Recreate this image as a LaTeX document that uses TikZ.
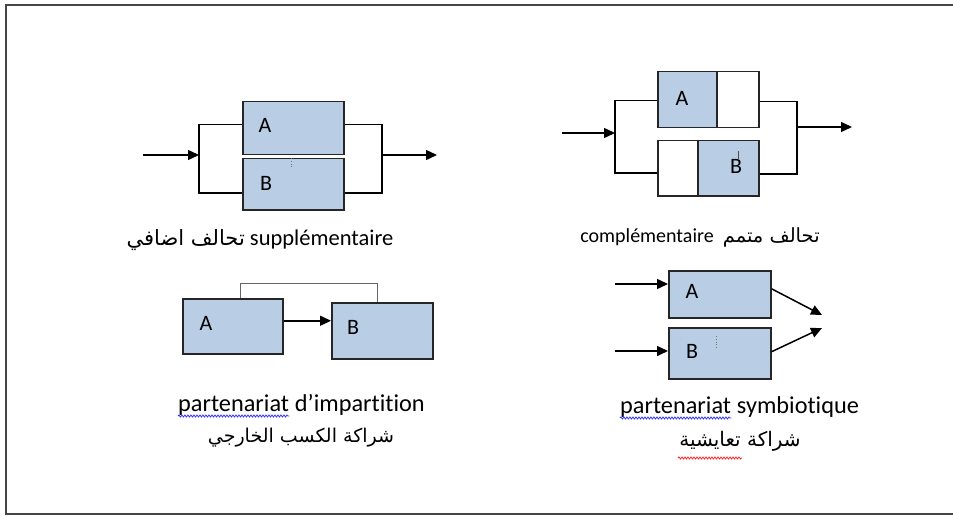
\documentclass[tikz,border=0pt]{standalone}
\usepackage{fontspec}
\setmainfont{Carlito}[Ligatures=NoCommon]
\newfontfamily\arabicfont[Script=Arabic]{DejaVu Sans}
\TeXXeTstate=1
\usetikzlibrary{arrows.meta,decorations.pathmorphing}
\definecolor{boxblue}{RGB}{185,205,229}
\definecolor{framegray}{RGB}{70,70,70}
\tikzset{
  box/.style={draw=black!85, line width=1.5pt, fill=boxblue, anchor=north west, inner sep=0pt},
  wbox/.style={draw=black!85, line width=1.5pt, fill=white, anchor=north west, inner sep=0pt},
  conn/.style={draw=black, line width=1.5pt},
  arr/.style={conn, -{Triangle[length=11pt,width=10pt]}},
  thinconn/.style={draw=black!60, line width=1pt},
  lab/.style={font=\fontsize{22}{24}\selectfont, inner sep=0pt},
  txt/.style={font=\fontsize{22.5}{24}\selectfont, inner sep=0pt},
  btxt/.style={font=\fontsize{24.3}{26}\selectfont, inner sep=0pt},
  stxt/.style={font=\fontsize{20}{22}\selectfont, inner sep=0pt},
  atxt/.style={font=\arabicfont\fontsize{19}{22}\selectfont, inner sep=0pt},
  wavyblue/.style={draw=blue!80, line width=0.8pt, decorate, decoration={snake, amplitude=1pt, segment length=3pt}},
  wavyred/.style={draw=red!85, line width=0.8pt, decorate, decoration={snake, amplitude=1pt, segment length=3pt}},
  cursor/.style={draw=black!55, line width=0.8pt, dotted}
}
\begin{document}
\begin{tikzpicture}[x=1pt,y=-1pt]
\useasboundingbox (0,0) rectangle (953,516);
% frame
\draw[framegray, line width=2pt] (953,5) -- (6,5) -- (6,514) -- (953,514);

% ---------- diagram 1 : supplementaire ----------
\node[box, minimum width=101pt, minimum height=53pt] (A1) at (242,101) {};
\node[box, minimum width=101pt, minimum height=51pt] (B1) at (242,158) {};
\node[lab] (A1t) at (265,125) {A};
\node[lab] (B1t) at (266,183) {B};
\draw[cursor] (291,158) -- (291,167);
\coordinate (s1) at (143,155);
\coordinate (J1) at (199,155);
\coordinate (K1) at (382,155);
\coordinate (e1) at (437,155);
\draw[arr] (s1) -- (J1);
\draw[conn] ([yshift=3.5pt]A1.west) -| (J1) |- ([yshift=-8.5pt]B1.west);
\draw[conn] ([yshift=3.5pt]A1.east) -| (K1) |- ([yshift=-8.5pt]B1.east);
\draw[arr] (K1) -- (e1);
\node[txt] (T1) at (260,240) {{\arabicfont\fontsize{21}{24}\selectfont\beginR تحالف اضافي\endR} supplémentaire};

% ---------- diagram 2 : complementaire ----------
\node[box, minimum width=59pt, minimum height=56pt] (A2) at (657,71) {};
\node[wbox, minimum width=42pt, minimum height=56pt] (A2w) at (716,71) {};
\node[wbox, minimum width=40pt, minimum height=55pt] (B2w) at (657,140) {};
\node[box, minimum width=61pt, minimum height=55pt] (B2) at (697,140) {};
\node[lab] (A2t) at (682,98) {A};
\node[lab] (B2t) at (736,166) {B};
\draw[draw=black!70, line width=0.8pt] (738,151) -- (738,160);
\coordinate (s2) at (562,133);
\coordinate (J2) at (615,133);
\coordinate (K2) at (797,127);
\coordinate (e2) at (852,127);
\draw[arr] (s2) -- (J2);
\draw[conn] ([yshift=-1pt]A2.west) -| (J2) |- ([yshift=-4.5pt]B2w.west);
\draw[conn] ([yshift=-2pt]A2w.east) -| (K2) |- ([yshift=-5.5pt]B2.east);
\draw[arr] (K2) -- (e2);
\node[stxt] (T2) at (700,237) {complémentaire\ \ {\arabicfont\fontsize{19.5}{22}\selectfont\beginR تحالف متمم\endR}};

% ---------- diagram 3 : impartition ----------
\node[box, minimum width=100pt, minimum height=55pt] (A3) at (182,298) {};
\node[box, minimum width=101pt, minimum height=56pt] (B3) at (331,302) {};
\node[lab] (A3t) at (206,323) {A};
\node[lab] (B3t) at (353,327) {B};
\coordinate (a3e) at ([yshift=5.5pt]A3.east);
\draw[arr] (a3e) -- (a3e -| B3.west);
\draw[thinconn] ([xshift=8pt]A3.north) -- ++(0,-15) -| ([xshift=-4.5pt]B3.north);
\node[btxt, anchor=base west] (P3) at (178,411) {partenariat};
\node[btxt, anchor=base west] (D3) at (P3.base east) {\ d’impartition};
\draw[wavyblue] ([yshift=-5pt]P3.base west) -- ([yshift=-5pt]P3.base east);
\node[atxt] (R3) at (301,438) {\beginR شراكة الكسب الخارجي\endR};

% ---------- diagram 4 : symbiotique ----------
\node[box, minimum width=102pt, minimum height=47pt] (A4) at (668,270) {};
\node[box, minimum width=102pt, minimum height=51pt] (B4) at (668,327) {};
\node[lab] (A4t) at (692,291) {A};
\node[lab] (B4t) at (692,351) {B};
\draw[cursor] (716,336) -- (716,348);
\coordinate (s4a) at (615,284);
\coordinate (s4b) at (615,351);
\coordinate (t4a) at (822,315);
\coordinate (t4b) at (822,328);
\draw[arr] (s4a) -- (s4a -| A4.west);
\draw[arr] (s4b) -- (s4b -| B4.west);
\draw[arr] ([yshift=5.5pt]A4.east) -- (t4a);
\draw[arr] ([yshift=1.5pt]B4.east) -- (t4b);
\node[btxt, anchor=base west] (P4) at (620,413) {partenariat};
\node[btxt, anchor=base west] (S4) at (P4.base east) {\ symbiotique};
\draw[wavyblue] ([yshift=-5pt]P4.base west) -- ([yshift=-5pt]P4.base east);
\node[atxt, font=\arabicfont\fontsize{20}{22}\selectfont] (R4) at (740,441) {\beginR شراكة تعايشية\endR};
\draw[wavyred] (678,458) -- (742,458);
\end{tikzpicture}
\end{document}
